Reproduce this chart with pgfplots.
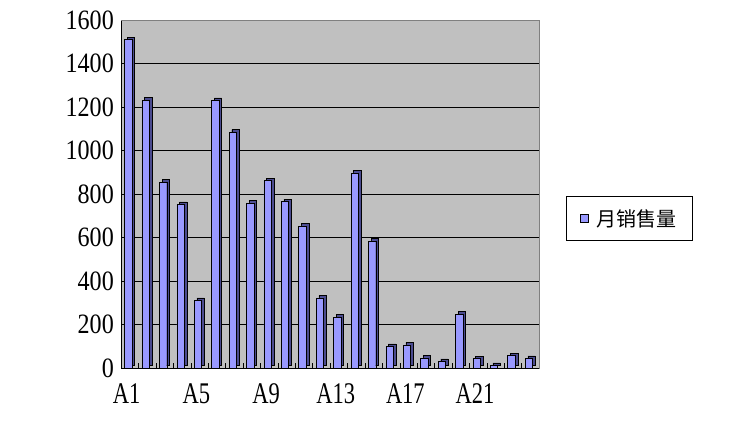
\documentclass[border=0pt]{standalone}
\usepackage{fontspec}
\setmainfont{Liberation Serif}
\newfontfamily\ytickf[FakeStretch=0.86]{Liberation Serif}
\newfontfamily\xtickf[FakeStretch=0.75]{Liberation Serif}
\newfontfamily\cjk{Noto Sans CJK SC}
\usepackage{pgfplots}
\pgfplotsset{compat=1.18}
\definecolor{barfront}{HTML}{9999FF}
\definecolor{barside}{HTML}{4B4B8F}
\definecolor{plotbg}{HTML}{C0C0C0}
\definecolor{plotedge}{HTML}{808080}
\begin{document}
\begin{tikzpicture}
\useasboundingbox (0,0) rectangle (736pt,421pt);
\begin{axis}[
  at={(121pt,53pt)}, anchor=south west,
  scale only axis, width=418pt, height=348pt,
  xmin=0.5, xmax=24.5, ymin=0, ymax=1600,
  axis lines*=left,
  axis line style={black, line width=0.8pt},
  axis background/.style={fill=plotbg, draw=plotedge, line width=0.8pt},
  xtick={1,5,9,13,17,21},
  xticklabels={A1,A5,A9,A13,A17,A21},
  major x tick style={draw=none},
  minor xtick={1.5,2.5,...,23.5},
  minor x tick style={black},
  minor tick length=5pt,
  ytick={0,200,...,1600},
  major tick length=5pt,
  tick align=inside,
  tick style={black},
  ymajorgrids,
  major grid style={black, line width=0.6pt},
  /pgf/number format/assume math mode=true,
  /pgf/number format/1000 sep={},
  yticklabel style={font=\ytickf\fontsize{28}{28}\selectfont, inner sep=2pt, xshift=-5pt},
  xticklabel style={font=\xtickf\fontsize{30}{30}\selectfont, xshift=-3pt, inner sep=0pt, yshift=-15pt},
  legend style={at={(1.0646,0.43)}, anchor=west, draw=black, line width=0.8pt,
    font=\cjk\fontsize{20}{22}\selectfont, inner xsep=14pt, inner ysep=11pt,
    /tikz/every even column/.append style={column sep=0pt}},
  legend image code/.code={\draw[#1, line width=0.6pt] (0pt,-4pt) rectangle (8pt,4pt);},
  clip=false,
]
\addplot[ybar, bar width=7.4pt, bar shift=1.2pt, fill=barside, draw=black, line width=0.4pt,
  yshift=2.5pt, forget plot] coordinates {
(1,1510) (2,1232) (3,855) (4,752) (5,311) (6,1230) (7,1085) (8,759) (9,862) (10,765) (11,654) (12,322)
(13,234) (14,897) (15,584) (16,99) (17,106) (18,47) (19,30) (20,248) (21,43) (22,12) (23,57) (24,44)};
\addplot[ybar, bar width=7.4pt, bar shift=-1.5pt, fill=barfront, draw=black, line width=0.4pt] coordinates {
(1,1510) (2,1232) (3,855) (4,752) (5,311) (6,1230) (7,1085) (8,759) (9,862) (10,765) (11,654) (12,322)
(13,234) (14,897) (15,584) (16,99) (17,106) (18,47) (19,30) (20,248) (21,43) (22,12) (23,57) (24,44)};
\addlegendentry{\hspace{5pt}月销售量}
\draw[plotedge, line width=0.8pt] (rel axis cs:0,1) -- (rel axis cs:1,1) -- (rel axis cs:1,0);
\end{axis}
\end{tikzpicture}
\end{document}
